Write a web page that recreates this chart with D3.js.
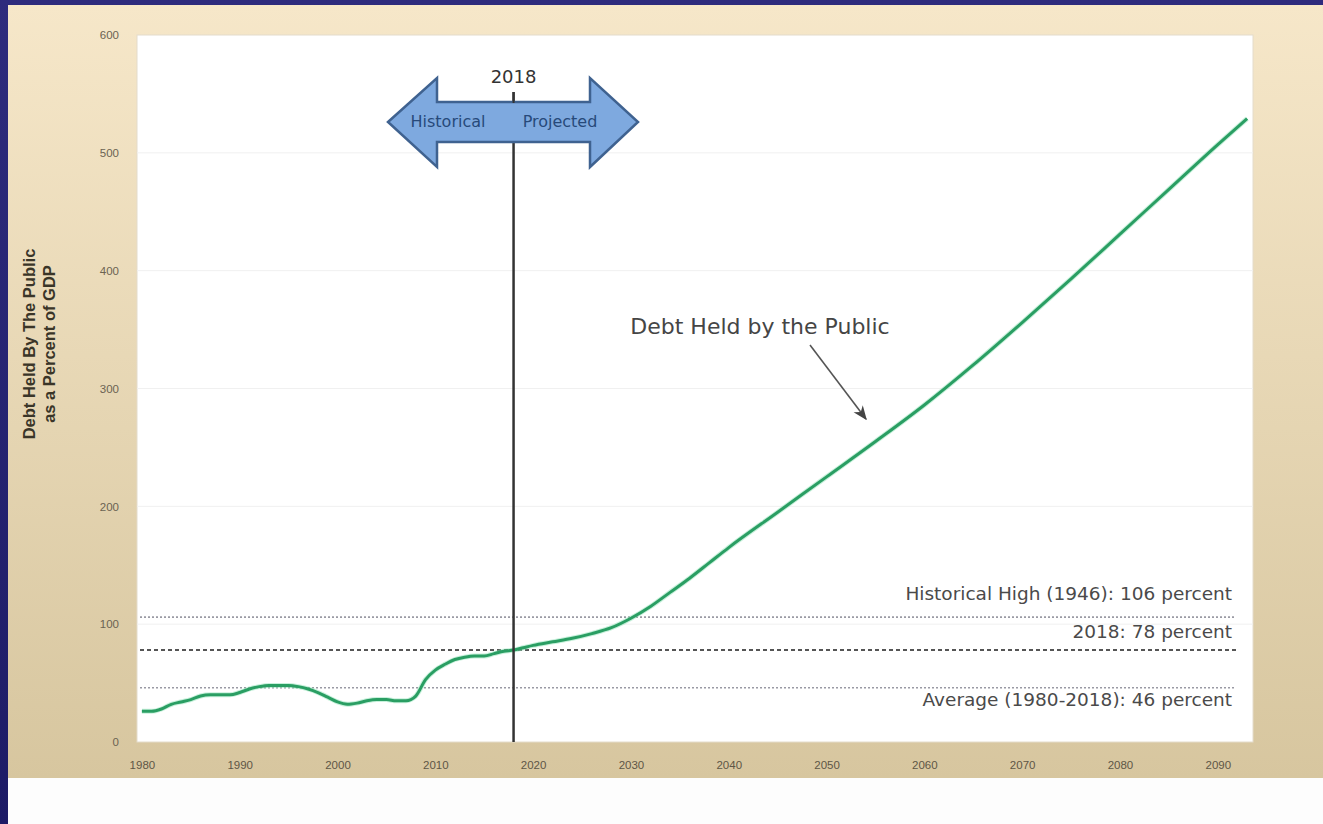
<!DOCTYPE html>
<html lang="en">
<head>
<meta charset="utf-8">
<title>Debt Held by the Public</title>
<script src="https://d3js.org/d3.v7.min.js"></script>
<style>
  body { margin: 0; background: #fff; overflow: hidden; }
  svg { display: block; }
</style>
</head>
<body>
<svg id="chart" width="1323" height="824"></svg>
<script>
// ---- data ----
const years = [1980, 1981, 1982, 1983, 1984, 1985, 1986, 1987, 1988, 1989,
  1990, 1991, 1992, 1993, 1994, 1995, 1996, 1997, 1998, 1999,
  2000, 2001, 2002, 2003, 2004, 2005, 2006, 2007, 2008, 2009,
  2010, 2011, 2012, 2013, 2014, 2015, 2016, 2017, 2018, 2019,
  2020, 2022, 2024, 2026, 2028, 2030, 2032, 2034, 2036, 2038,
  2040, 2045, 2050, 2055, 2060, 2065, 2070, 2075, 2080, 2085, 2090, 2093];
const debt = [26, 26, 28, 32, 34, 36, 39, 40, 40, 40,
  42, 45, 47, 48, 48, 48, 47, 45, 42, 38,
  34, 32, 33, 35, 36, 36, 35, 35, 39, 53,
  61, 66, 70, 72, 73, 73, 75, 77, 78, 80,
  82, 85, 88, 92, 97, 105, 115, 127, 139, 152,
  165, 195, 225, 255, 286, 320, 356, 393, 431, 469, 507, 529];

const refValues = [106, 78, 46];
const refLabels = ["Historical High (1946): 106 percent", "2018: 78 percent", "Average (1980-2018): 46 percent"];
const refStyles = ["dotted", "dashed", "dotted"];

const yTicks = [0, 100, 200, 300, 400, 500, 600];
const xTicks = [1980, 1990, 2000, 2010, 2020, 2030, 2040, 2050, 2060, 2070, 2080, 2090];
const splitYear = 2018;

// ---- layout ----
const svg = d3.select("#chart");
const plot = {left: 137, right: 1253, top: 35, bottom: 742};

const x = d3.scaleLinear().domain([1979.5, 2093.6]).range([plot.left, plot.right]);
const y = d3.scaleLinear().domain([0, 600]).range([plot.bottom, plot.top]);

const defs = svg.append("defs");
const bg = defs.append("linearGradient").attr("id", "bg").attr("x1", 0).attr("y1", 0).attr("x2", 0).attr("y2", 1);
bg.append("stop").attr("offset", "0%").attr("stop-color", "#f6e7c9");
bg.append("stop").attr("offset", "100%").attr("stop-color", "#d7c69f");
const navy = defs.append("linearGradient").attr("id", "navy").attr("x1", 0).attr("y1", 0).attr("x2", 0).attr("y2", 1);
navy.append("stop").attr("offset", "0%").attr("stop-color", "#2e2b7d");
navy.append("stop").attr("offset", "100%").attr("stop-color", "#1d1b66");
defs.append("marker").attr("id", "head")
    .attr("viewBox", "0 0 10 10").attr("refX", 9).attr("refY", 5)
    .attr("markerWidth", 9).attr("markerHeight", 9).attr("orient", "auto")
  .append("path").attr("d", "M0,1 L10,5 L0,9 L3,5 Z").attr("fill", "#444");

// frame
svg.append("rect").attr("x", 0).attr("y", 0).attr("width", 1323).attr("height", 824).attr("fill", "url(#navy)");
svg.append("rect").attr("x", 8).attr("y", 5).attr("width", 1315).attr("height", 773).attr("fill", "url(#bg)");
svg.append("rect").attr("x", 8).attr("y", 778).attr("width", 1315).attr("height", 46).attr("fill", "#fdfdfd");

// plot background
svg.append("rect")
    .attr("x", plot.left).attr("y", plot.top)
    .attr("width", plot.right - plot.left).attr("height", plot.bottom - plot.top)
    .attr("fill", "#fff").attr("stroke", "#e4dccb").attr("stroke-width", 1);

// gridlines
svg.append("g").selectAll("line")
  .data(yTicks.filter(d => d > 0 && d < 600))
  .join("line")
    .attr("x1", plot.left).attr("x2", plot.right)
    .attr("y1", d => y(d)).attr("y2", d => y(d))
    .attr("stroke", "#f0f0f0").attr("stroke-width", 1);

// y axis
const yAxis = svg.append("g")
    .attr("transform", `translate(${plot.left},0)`)
    .call(d3.axisLeft(y).tickValues(yTicks).tickSize(0).tickPadding(18));
yAxis.select(".domain").remove();
yAxis.selectAll("text").attr("font-family", "Liberation Sans, Arial, sans-serif")
    .attr("font-size", 11.5).attr("fill", "#6b6352");

// x axis
const xAxis = svg.append("g")
    .attr("transform", `translate(0,${plot.bottom})`)
    .call(d3.axisBottom(x).tickValues(xTicks).tickFormat(d3.format("d")).tickSize(0).tickPadding(19));
xAxis.select(".domain").remove();
xAxis.selectAll("text").attr("font-family", "Liberation Sans, Arial, sans-serif")
    .attr("font-size", 11.5).attr("fill", "#5e5646");

// y title
const yTitle = svg.append("text")
    .attr("transform", "translate(35,344) rotate(-90)")
    .attr("text-anchor", "middle")
    .attr("font-family", "Liberation Sans, Arial, sans-serif")
    .attr("font-weight", "bold").attr("font-size", 16.5).attr("fill", "#3a3528");
yTitle.append("tspan").attr("x", 0).attr("dy", 0).text("Debt Held By The Public");
yTitle.append("tspan").attr("x", 0).attr("dy", 20).text("as a Percent of GDP");

// reference lines
const refs = svg.append("g");
refValues.forEach((v, i) => {
  refs.append("line")
    .attr("x1", plot.left + 3).attr("x2", 1236)
    .attr("y1", y(v)).attr("y2", y(v))
    .attr("stroke", refStyles[i] === "dashed" ? "#555" : "#9a9aa4")
    .attr("stroke-width", refStyles[i] === "dashed" ? 2 : 1.6)
    .attr("stroke-dasharray", refStyles[i] === "dashed" ? "4,3" : "2,2");
});
const labelDy = [-22, -17, 13];
refValues.forEach((v, i) => {
  refs.append("text")
    .attr("x", 1232).attr("y", y(v) + labelDy[i])
    .attr("text-anchor", "end").attr("dominant-baseline", "middle")
    .attr("font-family", "DejaVu Sans, Verdana, sans-serif")
    .attr("font-size", 18.5).attr("fill", "#4a4a4a")
    .text(refLabels[i]);
});

// debt line
const line = d3.line()
    .x((d, i) => x(years[i]))
    .y(d => y(d))
    .curve(d3.curveMonotoneX);
svg.append("path")
    .datum(debt)
    .attr("fill", "none")
    .attr("stroke", "#8fe3b8").attr("stroke-width", 5).attr("stroke-opacity", 0.5)
    .attr("d", line);
svg.append("path")
    .datum(debt)
    .attr("fill", "none")
    .attr("stroke", "#2a9e63").attr("stroke-width", 3)
    .attr("stroke-linejoin", "round")
    .attr("d", line);

// 2018 split
const xs = x(splitYear);
svg.append("line")
    .attr("x1", xs).attr("x2", xs).attr("y1", 92).attr("y2", plot.bottom)
    .attr("stroke", "#333").attr("stroke-width", 2.5);

const ay = 122;
const arrow = [
  [388, ay], [437, 78], [437, 102], [590, 102], [590, 78], [638, ay],
  [590, 167], [590, 142], [437, 142], [437, 167]
];
svg.append("path")
    .attr("d", d3.line()(arrow) + "Z")
    .attr("fill", "#7ea9df").attr("stroke", "#3f6290").attr("stroke-width", 2.5)
    .attr("stroke-linejoin", "miter");
svg.append("line")
    .attr("x1", xs).attr("x2", xs).attr("y1", 92).attr("y2", 103)
    .attr("stroke", "#333").attr("stroke-width", 2);
svg.append("text")
    .attr("x", xs).attr("y", 78).attr("text-anchor", "middle").attr("dominant-baseline", "middle")
    .attr("font-family", "DejaVu Sans, Verdana, sans-serif").attr("font-size", 18).attr("fill", "#333")
    .text(String(splitYear));
svg.append("text")
    .attr("x", 448).attr("y", ay).attr("text-anchor", "middle").attr("dominant-baseline", "middle")
    .attr("font-family", "DejaVu Sans, Verdana, sans-serif").attr("font-size", 16).attr("fill", "#27497a")
    .text("Historical");
svg.append("text")
    .attr("x", 560).attr("y", ay).attr("text-anchor", "middle").attr("dominant-baseline", "middle")
    .attr("font-family", "DejaVu Sans, Verdana, sans-serif").attr("font-size", 16).attr("fill", "#27497a")
    .text("Projected");

// annotation
svg.append("text")
    .attr("x", 760).attr("y", 328).attr("text-anchor", "middle").attr("dominant-baseline", "middle")
    .attr("font-family", "DejaVu Sans, Verdana, sans-serif").attr("font-size", 22).attr("fill", "#454545")
    .text("Debt Held by the Public");
svg.append("line")
    .attr("x1", 810).attr("y1", 345).attr("x2", 866).attr("y2", 419)
    .attr("stroke", "#555").attr("stroke-width", 1.6)
    .attr("marker-end", "url(#head)");
</script>
</body>
</html>
